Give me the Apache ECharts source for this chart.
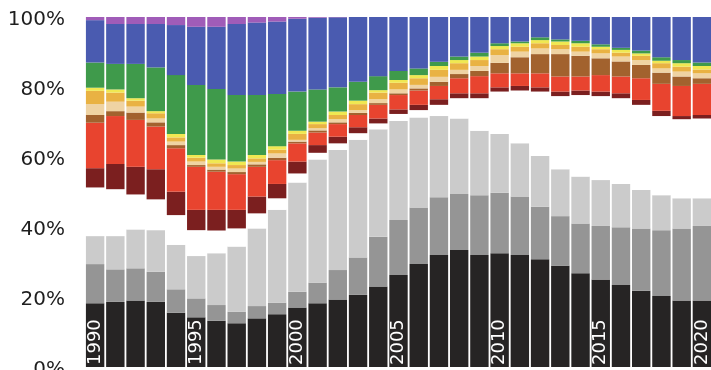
<!doctype html>
<html>
	<head>
		<meta charset="UTF-8">
		<title>Stacked share 1990-2020</title>
		<style>
			html, body { margin: 0; padding: 0; background: #fff; }
			#chart { width: 711px; height: 370px; }
		</style>
	</head>
	<body>
		<div id="chart"></div>
		<script src="https://cdn.jsdelivr.net/npm/echarts@6/dist/echarts.min.js"></script>
		<script type="text/javascript">
			// categories
			var years = ['1990', '1991', '1992', '1993', '1994', '1995', '1996', '1997', '1998', '1999',
				'2000', '2001', '2002', '2003', '2004', '2005', '2006', '2007', '2008', '2009',
				'2010', '2011', '2012', '2013', '2014', '2015', '2016', '2017', '2018', '2019', '2020'];
			var yTicks = [0, 20, 40, 60, 80, 100];

			// shares (%), bottom to top
			var blackShare   = [18.2, 18.6, 19.0, 18.6, 15.5, 14.2, 13.2, 12.5, 13.9, 15.1, 17.0, 18.2, 19.3, 20.6, 23.0, 26.3, 29.4, 32.0, 33.4, 32.0, 32.5, 32.0, 30.8, 28.9, 26.8, 25.0, 23.4, 21.8, 20.3, 19.0, 19.0];
			var grayShare    = [11.2, 9.3, 9.2, 8.6, 6.7, 5.4, 4.5, 3.3, 3.5, 3.3, 4.5, 5.9, 8.4, 10.7, 14.2, 15.7, 16.2, 16.5, 16.0, 17.1, 17.3, 16.7, 15.0, 14.2, 14.2, 15.3, 16.5, 17.8, 18.8, 20.6, 21.3];
			var lightShare   = [8.0, 9.5, 11.1, 11.9, 12.7, 12.1, 14.8, 18.6, 22.2, 26.5, 31.2, 35.2, 34.3, 33.6, 30.7, 28.3, 25.7, 23.2, 21.6, 18.4, 16.8, 15.2, 14.5, 13.4, 13.4, 13.1, 12.4, 11.0, 10.0, 8.6, 7.9];
			var whiteShare   = [13.9, 13.4, 10.0, 8.8, 8.5, 7.4, 6.5, 5.2, 4.3, 3.3, 2.6, 1.9, 1.9, 1.9, 1.7, 2.0, 2.1, 3.2, 5.8, 9.3, 12.1, 15.1, 18.4, 20.9, 23.3, 24.0, 24.5, 24.3, 22.6, 22.6, 22.8];
			var darkRedShare = [5.5, 7.2, 7.9, 8.6, 6.7, 5.8, 5.9, 5.3, 4.8, 4.1, 3.4, 2.2, 1.9, 1.7, 1.4, 1.3, 1.5, 1.6, 1.4, 1.4, 1.2, 1.3, 1.2, 1.3, 1.3, 1.3, 1.4, 1.4, 1.5, 0.9, 1.0];
			var redShare     = [13.0, 13.7, 13.4, 12.2, 12.4, 12.3, 10.9, 10.2, 8.5, 6.8, 5.2, 3.6, 3.6, 3.5, 3.9, 4.1, 4.1, 3.8, 4.3, 4.9, 4.0, 3.6, 4.0, 4.3, 4.0, 4.7, 4.8, 6.2, 7.7, 8.6, 8.9];
			var brownShare   = [2.2, 1.4, 2.1, 1.2, 0.9, 0.5, 0.6, 0.6, 0.7, 0.7, 0.5, 0.6, 0.5, 0.6, 0.5, 0.5, 0.6, 1.2, 1.2, 1.5, 3.0, 4.6, 5.5, 6.4, 5.9, 4.8, 4.3, 3.8, 3.2, 2.7, 1.6];
			var tanShare     = [3.1, 2.7, 1.7, 1.1, 1.0, 1.0, 0.8, 1.0, 0.7, 1.2, 0.5, 0.6, 0.9, 0.8, 1.1, 1.1, 1.0, 1.4, 1.2, 1.4, 2.2, 1.6, 1.6, 1.4, 1.2, 1.4, 1.4, 1.4, 1.2, 1.4, 1.4];
			var orangeShare  = [3.8, 2.6, 1.7, 1.5, 1.2, 1.1, 1.0, 1.0, 1.0, 1.1, 1.7, 1.2, 1.2, 1.7, 1.9, 1.9, 1.9, 2.0, 1.9, 1.7, 1.7, 1.4, 1.5, 1.2, 1.4, 1.2, 1.1, 1.2, 1.5, 1.4, 1.1];
			var yellowShare  = [0.9, 0.9, 0.7, 0.6, 1.0, 0.8, 1.1, 1.0, 1.0, 1.0, 0.9, 0.7, 1.0, 1.0, 0.7, 0.8, 0.9, 1.1, 0.9, 1.0, 0.9, 1.0, 0.9, 1.0, 1.0, 0.7, 0.8, 0.7, 0.7, 1.0, 1.0];
			var greenShare   = [7.2, 7.3, 9.8, 12.5, 16.8, 20.0, 20.1, 19.0, 17.1, 14.9, 11.2, 9.2, 6.9, 5.4, 4.0, 2.6, 1.9, 1.2, 1.0, 1.1, 0.8, 0.5, 0.8, 0.6, 0.7, 0.7, 0.6, 0.8, 1.0, 0.9, 1.0];
			var blueShare    = [12.1, 11.4, 11.4, 12.4, 14.3, 16.6, 17.8, 20.3, 20.7, 20.7, 20.8, 20.5, 20.0, 18.5, 16.9, 15.4, 14.7, 12.8, 11.3, 10.2, 7.5, 7.0, 5.8, 6.4, 6.8, 7.8, 8.8, 9.6, 11.5, 12.3, 13.0];
			var purpleShare  = [0.9, 2.0, 2.0, 2.0, 2.3, 2.8, 2.8, 2.0, 1.6, 1.3, 0.5, 0.2, 0.1, 0, 0, 0, 0, 0, 0, 0, 0, 0, 0, 0, 0, 0, 0, 0, 0, 0, 0];

			var layers = [
				{ name: 'black', data: blackShare, color: '#262424' },
				{ name: 'gray', data: grayShare, color: '#959595' },
				{ name: 'light gray', data: lightShare, color: '#cbcbcb' },
				{ name: 'white', data: whiteShare, color: '#ffffff' },
				{ name: 'dark red', data: darkRedShare, color: '#7b1f1f' },
				{ name: 'red', data: redShare, color: '#e8442f' },
				{ name: 'brown', data: brownShare, color: '#a2622e' },
				{ name: 'tan', data: tanShare, color: '#efd3a3' },
				{ name: 'orange', data: orangeShare, color: '#e9b243' },
				{ name: 'yellow', data: yellowShare, color: '#f0e852' },
				{ name: 'green', data: greenShare, color: '#3f9a4b' },
				{ name: 'blue', data: blueShare, color: '#4a5bb0' },
				{ name: 'purple', data: purpleShare, color: '#a05cb8' }
			];

			var series = [];
			for (var i = 0; i < layers.length; i++) {
				series.push({
					name: layers[i].name,
					type: 'bar',
					stack: 'share',
					barCategoryGap: '9%',
					data: layers[i].data,
					itemStyle: { color: layers[i].color },
					silent: true
				});
			}

			var chart = echarts.init(document.getElementById('chart'));
			chart.setOption({
				animation: false,
				backgroundColor: '#ffffff',
				// keep the plot exactly where it is, labels may run off the canvas
				grid: { left: 85, top: 17, width: 627, height: 350, outerBoundsMode: 'none', containLabel: false },
				xAxis: {
					type: 'category',
					data: years,
					axisLine: { show: false },
					axisTick: { show: false },
					axisLabel: {
						inside: true,
						rotate: 90,
						interval: 4,
						margin: 2,
						color: '#ffffff',
						fontSize: 18,
						fontFamily: 'DejaVu Sans'
					},
					z: 10
				},
				yAxis: {
					type: 'value',
					min: yTicks[0],
					max: yTicks[yTicks.length - 1],
					interval: 20,
					splitLine: { show: false },
					axisLine: { show: false },
					axisTick: { show: false },
					axisLabel: {
						formatter: function (v) { return '{t|' + v + '%}'; },
						margin: 20,
						rich: {
							t: {
								padding: [5, 0, 0, 0],
								color: '#1e1e1e',
								fontSize: 20,
								fontFamily: 'DejaVu Sans'
							}
						}
					}
				},
				series: series
			});
		</script>
	</body>
</html>
